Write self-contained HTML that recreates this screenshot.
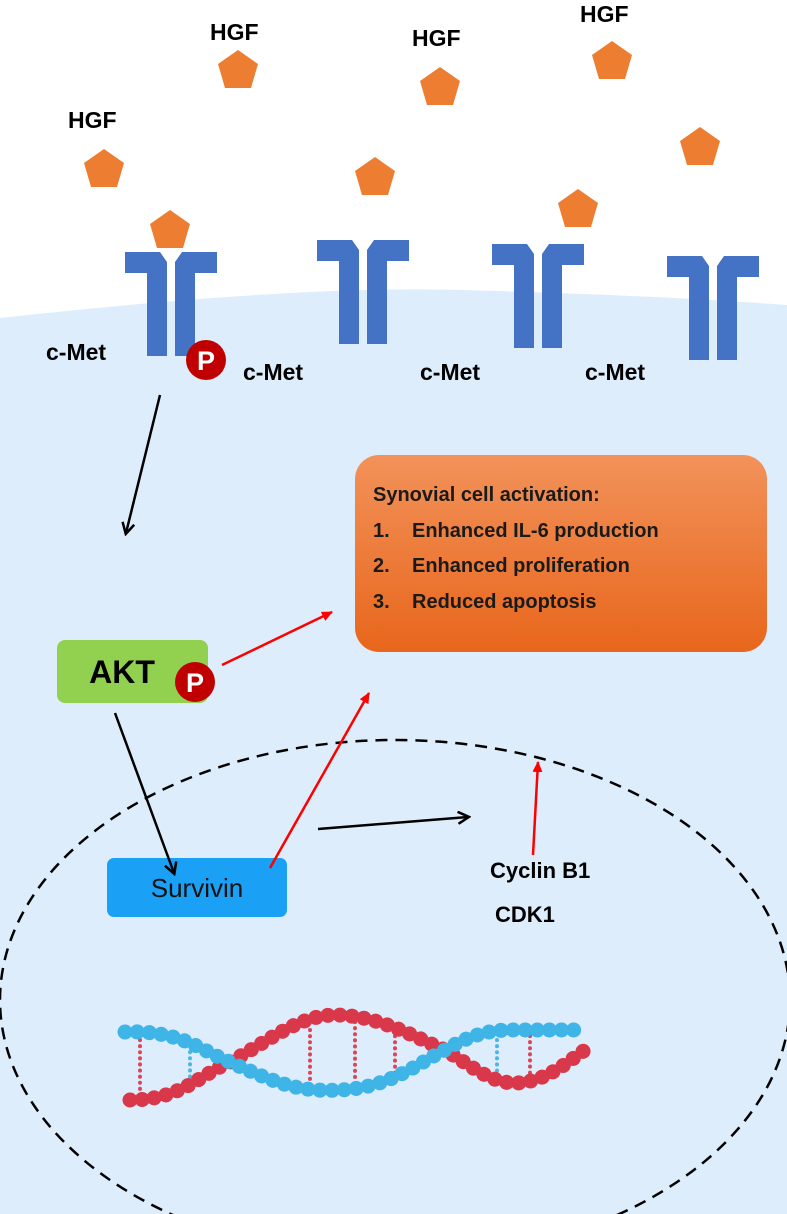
<!DOCTYPE html>
<html><head><style>body{margin:0;background:#fff}svg{display:block}text{font-family:"Liberation Sans",sans-serif}</style></head><body>
<svg width="787" height="1214" viewBox="0 0 787 1214" xmlns="http://www.w3.org/2000/svg">
<defs>
<linearGradient id="og" x1="0" y1="0" x2="0" y2="1"><stop offset="0" stop-color="#f2925a"/><stop offset="1" stop-color="#e8661c"/></linearGradient>
<marker id="ab" markerWidth="14" markerHeight="14" refX="11" refY="7" orient="auto" markerUnits="userSpaceOnUse"><path d="M1,1 L12,7 L1,13" fill="none" stroke="#000" stroke-width="2.5"/></marker>
<marker id="ar" markerWidth="12" markerHeight="12" refX="10" refY="6" orient="auto" markerUnits="userSpaceOnUse"><path d="M0,1 L11,6 L0,11z" fill="#f00"/></marker>
<g id="rec"><path d="M-46,0 L-11,0 L-4,10 L-4,104 L-24,104 L-24,21 L-46,21Z M46,0 L11,0 L4,10 L4,104 L24,104 L24,21 L46,21Z" fill="#4472c4"/></g>
<path id="pent" d="M0,-19 L20,-5 L13,19 L-13,19 L-20,-5Z" fill="#ed7d31"/>
</defs>
<path d="M0,318 Q300,285 460,290 Q650,295 787,305 L787,1214 L0,1214Z" fill="#deedfc"/>
<use href="#rec" x="171" y="252"/>
<use href="#rec" x="363" y="240"/>
<use href="#rec" x="538" y="244"/>
<use href="#rec" x="713" y="256"/>
<use href="#pent" x="104" y="168"/><use href="#pent" x="238" y="69"/><use href="#pent" x="440" y="86"/><use href="#pent" x="612" y="60"/><use href="#pent" x="700" y="146"/>
<use href="#pent" x="170" y="229"/><use href="#pent" x="375" y="176"/><use href="#pent" x="578" y="208"/>
<g font-weight="bold" font-size="23" fill="#000">
<text x="68" y="128">HGF</text><text x="210" y="40">HGF</text><text x="412" y="46">HGF</text><text x="580" y="22">HGF</text>
<text x="46" y="360">c-Met</text><text x="243" y="380">c-Met</text><text x="420" y="380">c-Met</text><text x="585" y="380">c-Met</text>
</g>
<circle cx="206" cy="360" r="20" fill="#c00000"/><text x="206" y="370" font-size="27" font-weight="bold" fill="#fff" text-anchor="middle">P</text>
<rect x="355" y="455" width="412" height="197" rx="24" fill="url(#og)"/>
<g font-weight="bold" font-size="20" fill="#1a1a1a">
<text x="373" y="501">Synovial  cell activation:</text>
<text x="373" y="537">1.</text><text x="412" y="537">Enhanced IL-6 production</text>
<text x="373" y="572">2.</text><text x="412" y="572">Enhanced proliferation</text>
<text x="373" y="608">3.</text><text x="412" y="608">Reduced apoptosis</text>
</g>
<rect x="57" y="640" width="151" height="63" rx="8" fill="#92d050"/>
<text x="122" y="683" font-size="32" font-weight="bold" text-anchor="middle">AKT</text>
<circle cx="195" cy="682" r="20" fill="#c00000"/><text x="195" y="692" font-size="27" font-weight="bold" fill="#fff" text-anchor="middle">P</text>
<ellipse cx="395" cy="1000" rx="395" ry="260" fill="none" stroke="#000" stroke-width="2.5" stroke-dasharray="12,8"/>
<g stroke-linecap="round" fill="none">
<g stroke-width="4" stroke-dasharray="0.1 6">
<line x1="140" y1="1040" x2="140" y2="1094" stroke="#d8485a"/><line x1="190" y1="1046" x2="190" y2="1088" stroke="#4ab8e0"/>
<line x1="310" y1="1030" x2="310" y2="1084" stroke="#d8485a"/><line x1="355" y1="1022" x2="355" y2="1086" stroke="#d8485a"/>
<line x1="395" y1="1030" x2="395" y2="1074" stroke="#d8485a"/><line x1="497" y1="1040" x2="497" y2="1078" stroke="#4ab8e0"/>
<line x1="530" y1="1036" x2="530" y2="1078" stroke="#d8485a"/>
</g>
<path d="M130,1100 C180,1100 200,1075 230,1062 C270,1040 300,1015 335,1015 C380,1015 420,1040 445,1050 C470,1065 490,1083 515,1083 C545,1083 570,1060 585,1050" stroke="#d8384a" stroke-width="15" stroke-dasharray="0.1 12"/>
<path d="M125,1032 C180,1030 200,1050 230,1062 C280,1085 300,1092 340,1090 C390,1088 420,1062 445,1050 C470,1035 490,1030 510,1030 L585,1030" stroke="#3fb4e6" stroke-width="15" stroke-dasharray="0.1 12"/>
</g>
<rect x="107" y="858" width="180" height="59" rx="7" fill="#1aa0f5"/>
<text x="197" y="897" font-size="26" text-anchor="middle" fill="#111">Survivin</text>
<text x="490" y="878" font-size="22" font-weight="bold">Cyclin B1</text>
<text x="495" y="922" font-size="22" font-weight="bold">CDK1</text>
<g stroke="#000" stroke-width="2.5" marker-end="url(#ab)">
<line x1="160" y1="395" x2="126" y2="533"/><line x1="115" y1="713" x2="174" y2="873"/><line x1="318" y1="829" x2="468" y2="817"/>
</g>
<g stroke="#f00" stroke-width="2.5" marker-end="url(#ar)">
<line x1="222" y1="665" x2="332" y2="612"/><line x1="270" y1="868" x2="369" y2="693"/><line x1="533" y1="855" x2="538" y2="762"/>
</g>
</svg>
</body></html>
